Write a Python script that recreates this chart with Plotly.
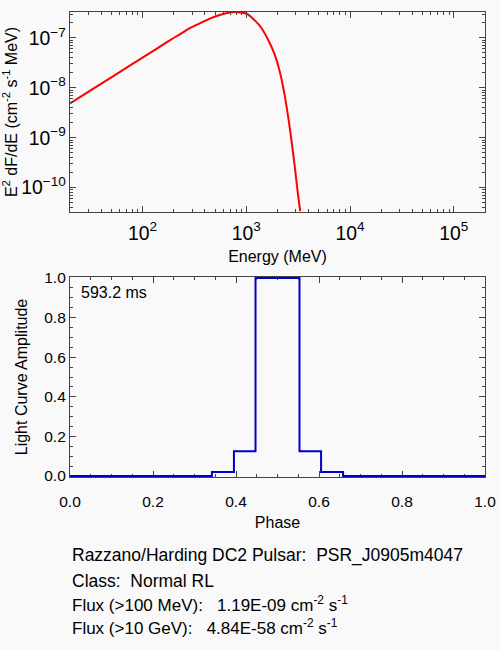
import plotly.graph_objects as go
import math

# ---- data ----
energy_mev = [20, 30, 45, 65, 100, 140, 183, 229, 286, 357, 445, 555, 693,
              805, 1005, 1208, 1400, 1620, 1880, 2100, 2340, 2530, 2720, 2930,
              3110, 3310]
e2dfde = [4.85e-9, 8.28e-9, 1.41e-8, 2.28e-8, 4.02e-8, 6.24e-8, 8.95e-8,
          1.18e-7, 1.56e-7, 1.96e-7, 2.43e-7, 2.88e-7, 3.21e-7, 3.28e-7,
          3.06e-7, 2.24e-7, 1.58e-7, 9.25e-8, 4.63e-8, 2.15e-8, 7.3e-9,
          2.67e-9, 9.2e-10, 2.7e-10, 9.2e-11, 3.4e-11]

phase_edges = [0.0, 0.342, 0.395, 0.447, 0.553, 0.605, 0.658, 1.0]
amplitude = [0.0, 0.02, 0.125, 1.0, 0.125, 0.02, 0.0]

period_label = "593.2 ms"
info_lines = [
    "Razzano/Harding DC2 Pulsar:  PSR_J0905m4047",
    "Class:  Normal RL",
    "Flux (>100 MeV):   1.19E-09 cm<sup>-2</sup> s<sup>-1</sup>",
    "Flux (>10 GeV):   4.84E-58 cm<sup>-2</sup> s<sup>-1</sup>",
]

FONT = "Liberation Sans, Arial, Helvetica, sans-serif"
BG = "#f9f9f9"
AX = "#444444"

fig = go.Figure()
fig.add_trace(go.Scatter(x=energy_mev, y=e2dfde, mode="lines",
                         line=dict(color="#ff0000", width=2, shape="spline", smoothing=1.0),
                         xaxis="x", yaxis="y", showlegend=False))
fig.add_trace(go.Scatter(x=phase_edges, y=amplitude + [amplitude[-1]], mode="lines",
                         line=dict(color="#0000cc", width=2, shape="hv"),
                         xaxis="x2", yaxis="y2", showlegend=False))

H = 650
ml, mr, mt, mb = 70, 15, 12, 173
ph = H - mt - mb

def ydom(top_px, bot_px):
    return [(H - mb - bot_px) / ph, (H - mb - top_px) / ph]

common = dict(showline=True, linecolor=AX, linewidth=1.2, mirror="allticks",
              ticks="inside", ticklen=6, tickcolor=AX, showgrid=False, zeroline=False,
              automargin=False, ticklabeloverflow="allow",
              tickfont=dict(family=FONT, size=15.5, color="black"),
              title_font=dict(family=FONT, size=16, color="black"))

fig.update_layout(
    width=500, height=650,
    paper_bgcolor=BG, plot_bgcolor=BG,
    margin=dict(l=ml, r=mr, t=mt, b=mb, autoexpand=False),
    font=dict(family=FONT, size=16, color="black"),
    xaxis=dict(type="log", range=[math.log10(20), math.log10(2e5)], dtick=1,
               exponentformat="power", domain=[0, 1], anchor="y", ticklabelstandoff=4,
               minor=dict(ticks="inside", ticklen=3, tickcolor=AX, dtick="D1"),
               title=dict(text="Energy (MeV)", standoff=8), **common),
    yaxis=dict(type="log", range=[math.log10(3.25e-11), math.log10(3.3e-7)], dtick=1,
               exponentformat="power", domain=ydom(12, 212), anchor="x",
               minor=dict(ticks="inside", ticklen=3, tickcolor=AX, dtick="D1"),
               title=dict(text="E<sup>2</sup> dF/dE (cm<sup>-2</sup> s<sup>-1</sup> MeV)", standoff=10),
               **common),
    xaxis2=dict(range=[0, 1], dtick=0.2, tickformat=".1f", domain=[0, 1], anchor="y2",
                layer="below traces", ticklabelstandoff=10,
                minor=dict(ticks="inside", ticklen=3, tickcolor=AX, dtick=0.05),
                title=dict(text="Phase", standoff=8), **common),
    yaxis2=dict(range=[-0.005, 1.005], dtick=0.2, tickformat=".1f", domain=ydom(277, 477),
                anchor="x2", layer="below traces",
                minor=dict(ticks="inside", ticklen=3, tickcolor=AX, dtick=0.05),
                title=dict(text="Light Curve Amplitude", standoff=12), **common),
)

fig.add_annotation(text=period_label, xref="x2 domain", yref="y2 domain",
                   x=0.022, y=0.92, xanchor="left", yanchor="middle", showarrow=False,
                   font=dict(family=FONT, size=16, color="black"))

line_y_px = [555, 581, 604, 627]
for i, (txt, ypx) in enumerate(zip(info_lines, line_y_px)):
    fig.add_annotation(text=txt,
                       xref="paper", yref="paper", x=0, y=(H - mb - ypx) / ph,
                       xanchor="left", yanchor="middle", showarrow=False,
                       font=dict(family=FONT, size=17.5 if i < 2 else 17, color="black"))

fig.write_html("out.html", config={"displayModeBar": False},
               post_script="document.body.style.margin='0';document.body.style.background='#f9f9f9';")
